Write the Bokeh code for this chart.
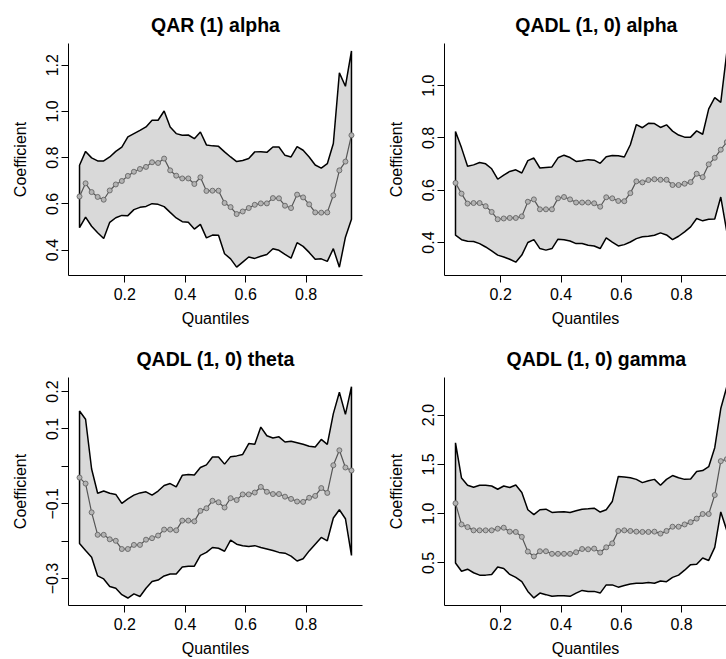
from bokeh.plotting import figure
from bokeh.layouts import gridplot
from bokeh.models import Range1d, FixedTicker
from bokeh.embed import file_html
from bokeh.resources import INLINE

quantiles = [0.05, 0.07, 0.09, 0.11, 0.13, 0.15, 0.17, 0.19, 0.21, 0.23,
             0.25, 0.27, 0.29, 0.31, 0.33, 0.35, 0.37, 0.39, 0.41, 0.43,
             0.45, 0.47, 0.49, 0.51, 0.53, 0.55, 0.57, 0.59, 0.61, 0.63,
             0.65, 0.67, 0.69, 0.71, 0.73, 0.75, 0.77, 0.79, 0.81, 0.83,
             0.85, 0.87, 0.89, 0.91, 0.93, 0.95]

qar_alpha_mid = [0.632, 0.689, 0.651, 0.630, 0.618, 0.658, 0.684, 0.699, 0.721, 0.739,
                 0.751, 0.760, 0.780, 0.777, 0.796, 0.745, 0.722, 0.710, 0.710, 0.686,
                 0.715, 0.656, 0.657, 0.657, 0.604, 0.586, 0.556, 0.567, 0.582, 0.596,
                 0.602, 0.602, 0.625, 0.624, 0.592, 0.582, 0.640, 0.628, 0.598, 0.563,
                 0.562, 0.563, 0.637, 0.745, 0.783, 0.897]
qar_alpha_up = [0.767, 0.827, 0.799, 0.786, 0.786, 0.803, 0.827, 0.846, 0.890, 0.904,
                0.918, 0.933, 0.962, 0.962, 1.002, 0.933, 0.904, 0.897, 0.898, 0.882,
                0.911, 0.855, 0.851, 0.849, 0.825, 0.803, 0.783, 0.788, 0.796, 0.825,
                0.826, 0.823, 0.846, 0.846, 0.810, 0.803, 0.848, 0.832, 0.803, 0.768,
                0.755, 0.774, 0.861, 1.167, 1.109, 1.262]
qar_alpha_lo = [0.497, 0.543, 0.503, 0.475, 0.450, 0.520, 0.540, 0.550, 0.549, 0.575,
                0.585, 0.589, 0.601, 0.598, 0.588, 0.563, 0.539, 0.523, 0.520, 0.491,
                0.511, 0.453, 0.465, 0.464, 0.384, 0.362, 0.326, 0.348, 0.370, 0.364,
                0.373, 0.381, 0.406, 0.399, 0.381, 0.365, 0.432, 0.416, 0.390, 0.360,
                0.362, 0.351, 0.406, 0.326, 0.456, 0.533]

qadl_alpha_mid = [0.628, 0.587, 0.549, 0.551, 0.551, 0.539, 0.517, 0.489, 0.492, 0.494,
                  0.494, 0.500, 0.556, 0.565, 0.527, 0.527, 0.527, 0.569, 0.574, 0.565,
                  0.553, 0.553, 0.553, 0.550, 0.537, 0.573, 0.569, 0.559, 0.558, 0.589,
                  0.634, 0.630, 0.639, 0.642, 0.640, 0.640, 0.620, 0.620, 0.625, 0.631,
                  0.663, 0.650, 0.699, 0.724, 0.755, 0.784]
qadl_alpha_up = [0.825, 0.762, 0.692, 0.697, 0.706, 0.701, 0.682, 0.642, 0.658, 0.672,
                 0.678, 0.666, 0.713, 0.723, 0.685, 0.687, 0.689, 0.724, 0.734, 0.725,
                 0.710, 0.713, 0.717, 0.715, 0.703, 0.728, 0.733, 0.732, 0.727, 0.774,
                 0.851, 0.839, 0.856, 0.855, 0.840, 0.850, 0.826, 0.811, 0.803, 0.803,
                 0.827, 0.814, 0.911, 0.954, 0.936, 1.127]
qadl_alpha_lo = [0.428, 0.411, 0.405, 0.404, 0.396, 0.383, 0.368, 0.352, 0.345, 0.336,
                 0.325, 0.352, 0.400, 0.411, 0.377, 0.371, 0.377, 0.413, 0.411, 0.406,
                 0.396, 0.396, 0.390, 0.387, 0.377, 0.418, 0.402, 0.387, 0.392, 0.402,
                 0.415, 0.422, 0.424, 0.428, 0.437, 0.429, 0.411, 0.424, 0.441, 0.460,
                 0.492, 0.483, 0.489, 0.490, 0.574, 0.441]

qadl_theta_mid = [-0.030, -0.046, -0.123, -0.183, -0.183, -0.195, -0.199, -0.221, -0.221, -0.210,
                  -0.210, -0.196, -0.192, -0.185, -0.169, -0.169, -0.171, -0.145, -0.145, -0.147,
                  -0.119, -0.112, -0.092, -0.096, -0.110, -0.085, -0.090, -0.075, -0.075, -0.070,
                  -0.055, -0.068, -0.074, -0.074, -0.081, -0.087, -0.094, -0.095, -0.084, -0.079,
                  -0.058, -0.071, 0.003, 0.043, -0.003, -0.011]
qadl_theta_up = [0.148, 0.126, -0.007, -0.072, -0.066, -0.072, -0.075, -0.099, -0.087, -0.077,
                 -0.071, -0.068, -0.077, -0.066, -0.051, -0.046, -0.055, -0.024, -0.022, -0.023,
                 -0.003, 0.004, 0.025, 0.025, 0.006, 0.026, 0.028, 0.032, 0.061, 0.059,
                 0.105, 0.082, 0.076, 0.079, 0.065, 0.067, 0.063, 0.059, 0.054, 0.052,
                 0.072, 0.059, 0.141, 0.198, 0.139, 0.213]
qadl_theta_lo = [-0.206, -0.225, -0.243, -0.293, -0.301, -0.321, -0.326, -0.343, -0.352, -0.341,
                 -0.348, -0.326, -0.308, -0.304, -0.293, -0.288, -0.288, -0.269, -0.267, -0.267,
                 -0.238, -0.230, -0.217, -0.219, -0.227, -0.197, -0.208, -0.212, -0.214, -0.212,
                 -0.217, -0.221, -0.225, -0.230, -0.232, -0.240, -0.253, -0.247, -0.226, -0.208,
                 -0.190, -0.199, -0.138, -0.116, -0.140, -0.238]

qadl_gamma_mid = [1.106, 0.891, 0.864, 0.831, 0.831, 0.831, 0.831, 0.848, 0.858, 0.818,
                  0.815, 0.765, 0.616, 0.566, 0.619, 0.619, 0.593, 0.593, 0.593, 0.593,
                  0.609, 0.642, 0.639, 0.646, 0.606, 0.659, 0.699, 0.825, 0.831, 0.825,
                  0.818, 0.815, 0.815, 0.818, 0.798, 0.825, 0.868, 0.868, 0.891, 0.914,
                  0.950, 0.997, 0.997, 1.189, 1.533, 1.553]
qadl_gamma_up = [1.719, 1.361, 1.288, 1.268, 1.288, 1.288, 1.281, 1.248, 1.281, 1.265,
                 1.291, 1.215, 1.040, 0.990, 1.040, 1.046, 1.013, 1.017, 1.020, 1.013,
                 1.030, 1.046, 1.050, 1.056, 1.017, 1.040, 1.123, 1.377, 1.371, 1.364,
                 1.348, 1.315, 1.334, 1.348, 1.288, 1.348, 1.387, 1.364, 1.348, 1.351,
                 1.427, 1.437, 1.477, 1.669, 2.066, 2.288]
qadl_gamma_lo = [0.500, 0.417, 0.437, 0.401, 0.377, 0.377, 0.384, 0.460, 0.444, 0.384,
                 0.354, 0.311, 0.212, 0.146, 0.195, 0.179, 0.162, 0.169, 0.169, 0.162,
                 0.195, 0.222, 0.212, 0.212, 0.195, 0.278, 0.278, 0.255, 0.272, 0.288,
                 0.295, 0.295, 0.301, 0.295, 0.318, 0.311, 0.354, 0.377, 0.427, 0.483,
                 0.487, 0.550, 0.526, 0.659, 1.018, 0.830]

titles = ["QAR (1) alpha", "QADL (1, 0) alpha", "QADL (1, 0) theta", "QADL (1, 0) gamma"]
x_ticks = [0.2, 0.4, 0.6, 0.8]
y_ticks = [
    [0.4, 0.6, 0.8, 1.0, 1.2],
    [0.4, 0.6, 0.8, 1.0],
    [-0.3, -0.2, -0.1, 0.0, 0.1, 0.2],
    [0.5, 1.0, 1.5, 2.0],
]
y_tick_labels = [
    ["0.4", "0.6", "0.8", "1.0", "1.2"],
    ["0.4", "0.6", "0.8", "1.0"],
    ["\u22120.3", "", "\u22120.1", "", "0.1", "0.2"],
    ["0.5", "1.0", "1.5", "2.0"],
]

FONT = "Liberation Sans"
TITLE_PX = 19.5


def title_width(text):
    # approximate Arial/Liberation Sans Bold advance widths (em)
    w = {"Q": .778, "A": .722, "R": .722, "D": .722, "L": .611, " ": .278, "(": .333,
         ")": .333, "1": .556, "0": .556, ",": .278, "a": .556, "l": .278, "p": .611,
         "h": .611, "t": .333, "e": .556, "g": .611, "m": .889}
    return sum(w.get(c, .556) for c in text) * TITLE_PX


def make_panel(i, mid, up, lo, yr, xr, width, height, borders, title_center=None):
    p = figure(width=width, height=height, output_backend="svg", toolbar_location=None,
               x_range=Range1d(*xr), y_range=Range1d(*yr),
               min_border_left=borders[0], min_border_right=borders[1],
               min_border_top=borders[2], min_border_bottom=borders[3],
               title=titles[i])
    p.outline_line_color = None
    p.background_fill_color = "white"
    p.border_fill_color = "white"
    p.xgrid.visible = False
    p.ygrid.visible = False
    p.title.text_font = FONT
    p.title.text_font_size = f"{TITLE_PX}px"
    p.title.text_font_style = "bold"
    p.title.text_color = "black"
    p.title.standoff = 16
    if title_center is None:
        p.title.align = "center"
    else:
        p.title.align = "left"
        p.title.offset = title_center - title_width(titles[i]) / 2

    xs = list(quantiles) + list(reversed(quantiles))
    ys = list(up) + list(reversed(lo))
    p.patch(xs, ys, fill_color="#d9d9d9", line_color="black", line_width=1.5)
    p.line(quantiles, mid, line_color="#555555", line_width=1.2)
    p.scatter(quantiles, mid, marker="circle", size=5, line_color="#666666",
              fill_color="#b3b3b3", line_width=0.9)

    for ax in (p.xaxis[0], p.yaxis[0]):
        ax.axis_line_color = "black"
        ax.axis_line_width = 1
        ax.major_tick_line_color = "black"
        ax.major_tick_out = 7
        ax.major_tick_in = 0
        ax.minor_tick_line_color = None
        ax.major_label_text_font = FONT
        ax.major_label_text_font_size = "16px"
        ax.major_label_text_color = "black"
        ax.axis_label_text_font = FONT
        ax.axis_label_text_font_size = "16px"
        ax.axis_label_text_font_style = "normal"
        ax.axis_label_text_color = "black"

    xa = p.xaxis[0]
    xa.ticker = FixedTicker(ticks=x_ticks)
    xa.major_label_overrides = {t: f"{t:.1f}" for t in x_ticks}
    xa.axis_label = "Quantiles"
    xa.major_label_standoff = 5
    xa.axis_label_standoff = 7

    ya = p.yaxis[0]
    ya.ticker = FixedTicker(ticks=y_ticks[i])
    ya.major_label_overrides = dict(zip(y_ticks[i], y_tick_labels[i]))
    ya.major_label_orientation = "vertical"
    ya.axis_label = "Coefficient"
    ya.major_label_standoff = 3
    ya.axis_label_standoff = 15
    return p


left_xr = (0.0135, 0.9865)
right_xr = (0.0135, 0.949)

p1 = make_panel(0, qar_alpha_mid, qar_alpha_up, qar_alpha_lo, (0.290, 1.294), left_xr,
                363, 330, (68, 1, 43, 55))
p2 = make_panel(1, qadl_alpha_mid, qadl_alpha_up, qadl_alpha_lo, (0.274, 1.161), right_xr,
                363, 330, (81, 0, 43, 55), title_center=152)
p3 = make_panel(2, qadl_theta_mid, qadl_theta_up, qadl_theta_lo, (-0.372, 0.2376), left_xr,
                363, 329, (68, 1, 47, 50))
p4 = make_panel(3, qadl_gamma_mid, qadl_gamma_up, qadl_gamma_lo, (0.069, 2.381), right_xr,
                363, 329, (81, 0, 47, 50), title_center=152)

grid = gridplot([[p1, p2], [p3, p4]], toolbar_location=None)

with open("out.html", "w") as f:
    f.write(file_html(grid, INLINE))
